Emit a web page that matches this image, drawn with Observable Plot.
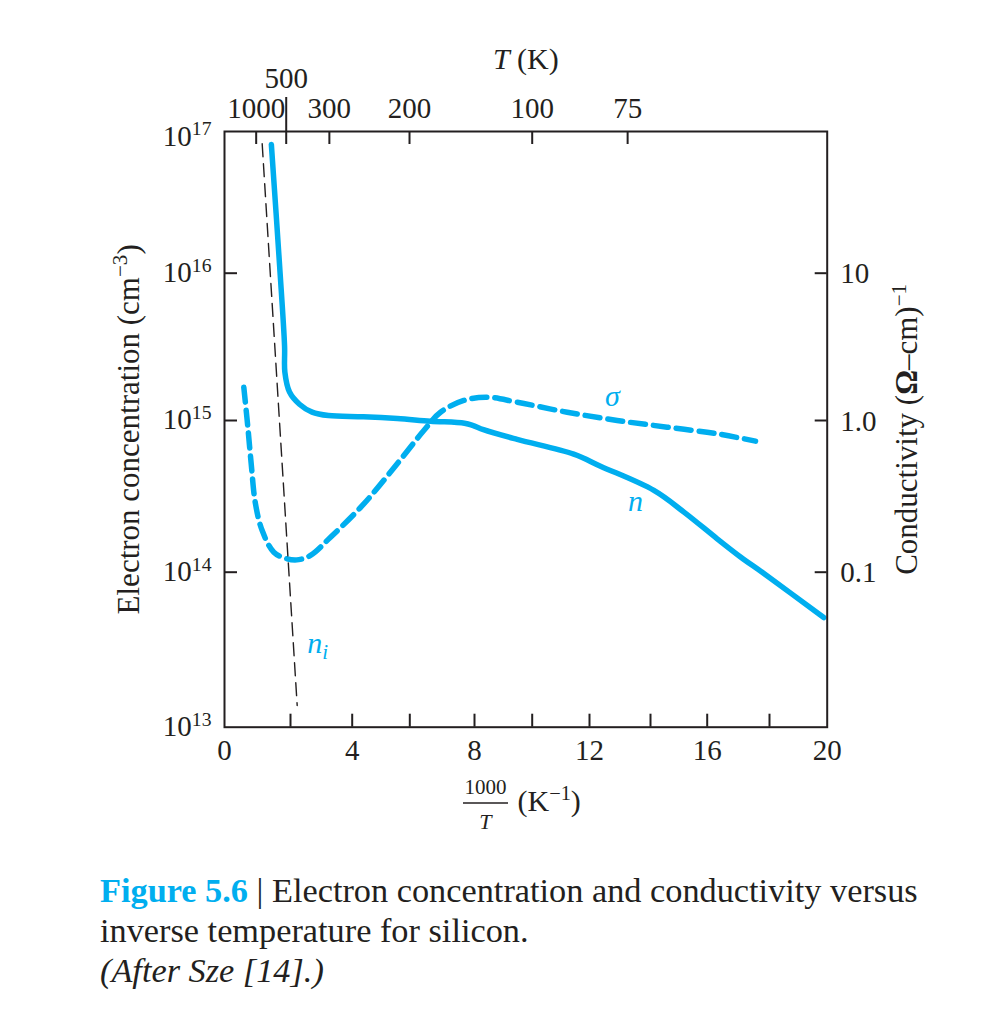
<!DOCTYPE html>
<html><head><meta charset="utf-8">
<script src="https://cdn.jsdelivr.net/npm/d3@7"></script>
<script src="https://cdn.jsdelivr.net/npm/@observablehq/plot@0.6"></script>
<style>
body{margin:0;background:#fff;}
#cap{font-family:'Liberation Serif',serif;font-size:34.3px;line-height:40px;padding:20px 0 0 100px;color:#231f20;white-space:nowrap;}
</style></head><body>
<div id="chart"></div>
<div id="cap"><span style="color:#00aeef;font-weight:bold">Figure 5.6</span> | Electron concentration and conductivity versus<br>inverse temperature for silicon.<br><i>(After Sze [14].)</i></div>
<script>
// ---- data ----
// electron concentration n (cm^-3) vs 1000/T
const nX = [1.42, 1.67, 1.82, 1.83, 1.97, 2.29, 2.70, 3.23, 4.39, 5.57, 6.64, 7.69, 7.94, 8.31, 9.48, 11.45, 12.36, 14.12, 15.18, 16.32, 17.07, 17.82, 19.88];
const nY = [8.1e16, 1.13e16, 3.2e15, 2.12e15, 1.56e15, 1.29e15, 1.14e15, 1.08e15, 1.06e15, 1.03e15, 9.9e14, 9.6e14, 9.3e14, 8.7e14, 7.5e14, 6.0e14, 5.0e14, 3.46e14, 2.49e14, 1.66e14, 1.26e14, 9.8e13, 5.1e13];
// conductivity sigma ((ohm-cm)^-1) vs 1000/T
const sX = [0.585, 0.688, 0.809, 0.939, 1.142, 1.494, 1.900, 2.269, 2.648, 3.297, 4.403, 5.563, 6.433, 6.949, 7.669, 8.440, 9.480, 11.222, 12.908, 14.589, 16.321, 17.551];
const sV = [1.68, 1.00, 0.519, 0.282, 0.188, 0.1355, 0.1225, 0.121, 0.129, 0.170, 0.282, 0.519, 0.859, 1.138, 1.368, 1.439, 1.330, 1.138, 1.000, 0.904, 0.817, 0.731];
// intrinsic concentration n_i
const niX = [1.142, 2.217];
const niY = [8.2e16, 1.38e13];
// axes
const xTicks = [2, 4, 6, 8, 10, 12, 14, 16, 18];
const xLabels = [0, 4, 8, 12, 16, 20];
const yExps = [13, 14, 15, 16, 17];
const sigmaTicks = [0.1, 1, 10];
const sigmaLabels = ["0.1", "1.0", "10"];
const tLabels = ["1000", "500", "300", "200", "100", "75"];
const tPos = [0.96, 1.87, 3.26, 5.99, 10.0, 13.25];
// curve annotations
const notes = [
  {x: 12.75, y: 1.245e15, text: "σ", anchor: "middle"},
  {x: 13.51, y: 2.55e14, text: "n", anchor: "middle"},
  {x: 2.54, y: 3.03e13, text: "n_{i}", anchor: "start"}
];

const INK = "#231f20", CYAN = "#00aeef";
const W = 982, H = 850;
const mL = 224, mR = 155.3, mT = 131, mB = 123.3;
const innerW = W - mL - mR, innerH = H - mT - mB;

const nData = nX.map((x, i) => ({x, n: nY[i]}));
const sData = sX.map((x, i) => ({x, s: sV[i]}));
const niData = niX.map((x, i) => ({x, n: niY[i]}));
const tData = tLabels.map((t, i) => ({t, x: tPos[i]}));

const TK = {stroke: INK, strokeWidth: 2};
const TX = {fill: INK, fontSize: 29};

const plot = Plot.plot({
  width: W, height: H,
  marginLeft: mL, marginRight: mR, marginTop: mT, marginBottom: mB,
  style: {fontFamily: "'Liberation Serif', serif", background: "white", color: INK, overflow: "visible"},
  x: {type: "linear", domain: [0,2,4,6,8,10,12,14,16,18,20],
      range: [224,290,351.7,409.3,474,531.7,589,650,706.7,769,826.7], axis: null},
  y: {type: "log", domain: [1e13,1e14,1e15,1e16,1e17],
      range: [726.7,571.7,420,272.7,131], axis: null},
  marks: [
    Plot.line(sData, {x: "x", y: d => d.s * 1e15, stroke: CYAN, strokeWidth: 5.5, strokeDasharray: "15,8", curve: "catmull-rom"}),
    Plot.line(nData, {x: "x", y: "n", stroke: CYAN, strokeWidth: 5.5, curve: "catmull-rom"}),
    Plot.line(niData, {x: "x", y: "n", stroke: INK, strokeWidth: 1.4, strokeDasharray: "13,7"}),
    Plot.frame({stroke: INK, strokeWidth: 2}),
    // ticks
    Plot.tickX(xTicks, {x: d => d, insetTop: innerH - 13, ...TK}),
    Plot.tickX(tData.filter(d => d.t !== "500"), {x: "x", insetBottom: innerH - 13, ...TK}),
    Plot.tickX(tData.filter(d => d.t === "500"), {x: "x", insetTop: -34, insetBottom: innerH - 13, ...TK}),
    Plot.tickY(yExps.slice(1, -1), {y: d => 10 ** d, insetRight: innerW - 13, ...TK}),
    Plot.tickY(sigmaTicks, {y: d => d * 1e15, insetLeft: innerW - 12, ...TK}),
    // tick labels
    Plot.text(xLabels, {x: d => d, text: d => String(d), frameAnchor: "bottom", lineAnchor: "bottom", dy: 33, ...TX}),
    Plot.text(tData.filter(d => d.t !== "500"), {x: "x", text: "t", frameAnchor: "top", lineAnchor: "bottom", dy: -14, ...TX}),
    Plot.text(tData.filter(d => d.t === "500"), {x: "x", text: "t", frameAnchor: "top", lineAnchor: "bottom", dy: -44, ...TX}),
    Plot.text(yExps.slice(0, -1), {y: d => 10 ** d, text: d => `10^{${d}}`, frameAnchor: "left", textAnchor: "end", dx: -13, dy: -0.5, ...TX}),
    Plot.text(yExps.slice(-1), {y: d => 10 ** d, text: d => `10^{${d}}`, frameAnchor: "left", textAnchor: "end", dx: -13, dy: 5, ...TX}),
    Plot.text(sigmaTicks, {y: d => d * 1e15, text: (d, i) => sigmaLabels[i], frameAnchor: "right", textAnchor: "start", dx: 13, dy: 1, ...TX}),
    // axis titles
    Plot.text(["Electron concentration (cm^{−3})"], {text: d => d, frameAnchor: "left", textAnchor: "middle", rotate: -90, lineAnchor: "bottom", dx: -86, fontSize: 31, fill: INK}),
    Plot.text(["Conductivity (*{Ω}–cm)^{−1}"], {text: d => d, frameAnchor: "right", textAnchor: "middle", rotate: -90, lineAnchor: "bottom", dx: 90, fontSize: 31, fill: INK}),
    Plot.text(["~{T} (K)"], {text: d => d, frameAnchor: "top", textAnchor: "middle", lineAnchor: "bottom", dy: -63, fontSize: 30, fill: INK}),
    Plot.text(["1000"], {text: d => d, frameAnchor: "bottom", textAnchor: "middle", lineAnchor: "bottom", dx: -40.35, dy: 66.3, fontSize: 21, fill: INK}),
    Plot.text(["T"], {text: d => d, frameAnchor: "bottom", textAnchor: "middle", lineAnchor: "bottom", dx: -40.35, dy: 101.3, fontSize: 22, fontStyle: "italic", fill: INK}),
    Plot.text(["(K^{−1})"], {text: d => d, frameAnchor: "bottom", lineAnchor: "bottom", textAnchor: "start", dx: -8.35, dy: 83.3, fontSize: 30, fill: INK}),
    // curve labels
    Plot.text(notes.filter(d => d.anchor === "middle"), {x: "x", y: "y", text: "text", lineAnchor: "bottom", fontStyle: "italic", fontSize: 30, fill: CYAN}),
    Plot.text(notes.filter(d => d.anchor === "start"), {x: "x", y: "y", text: "text", lineAnchor: "bottom", textAnchor: "start", fontStyle: "italic", fontSize: 30, fill: CYAN})
  ]
});
document.getElementById("chart").appendChild(plot);

// rich text: ^{sup} _{sub} *{bold} ~{italic}
const NS = "http://www.w3.org/2000/svg";
plot.querySelectorAll("text").forEach(t => {
  const s = t.textContent;
  if (!/[\^_*~]\{/.test(s)) return;
  const F = parseFloat(getComputedStyle(t).fontSize) || 29;
  const parts = []; const re = /([\^_*~])\{([^}]*)\}/g; let last = 0, m;
  while ((m = re.exec(s))) {
    if (m.index > last) parts.push(["", s.slice(last, m.index)]);
    parts.push([m[1], m[2]]); last = re.lastIndex;
  }
  if (last < s.length) parts.push(["", s.slice(last)]);
  t.textContent = "";
  let shift = 0;
  for (const [k, str] of parts) {
    const ts = document.createElementNS(NS, "tspan");
    let target = 0;
    if (k === "^") { target = -0.36 * F; ts.setAttribute("font-size", 0.68 * F); }
    else if (k === "_") { target = 0.2 * F; ts.setAttribute("font-size", 0.7 * F); }
    else if (k === "*") ts.setAttribute("font-weight", "bold");
    else if (k === "~") ts.setAttribute("font-style", "italic");
    if (target !== shift) { ts.setAttribute("dy", target - shift); shift = target; }
    ts.textContent = str;
    t.appendChild(ts);
  }
});
// fraction bar of the 1000/T label
d3.select(plot).append("line")
  .attr("x1", 463).attr("x2", 508).attr("y1", 803).attr("y2", 803)
  .attr("stroke", INK).attr("stroke-width", 1.4);
</script></body></html>
